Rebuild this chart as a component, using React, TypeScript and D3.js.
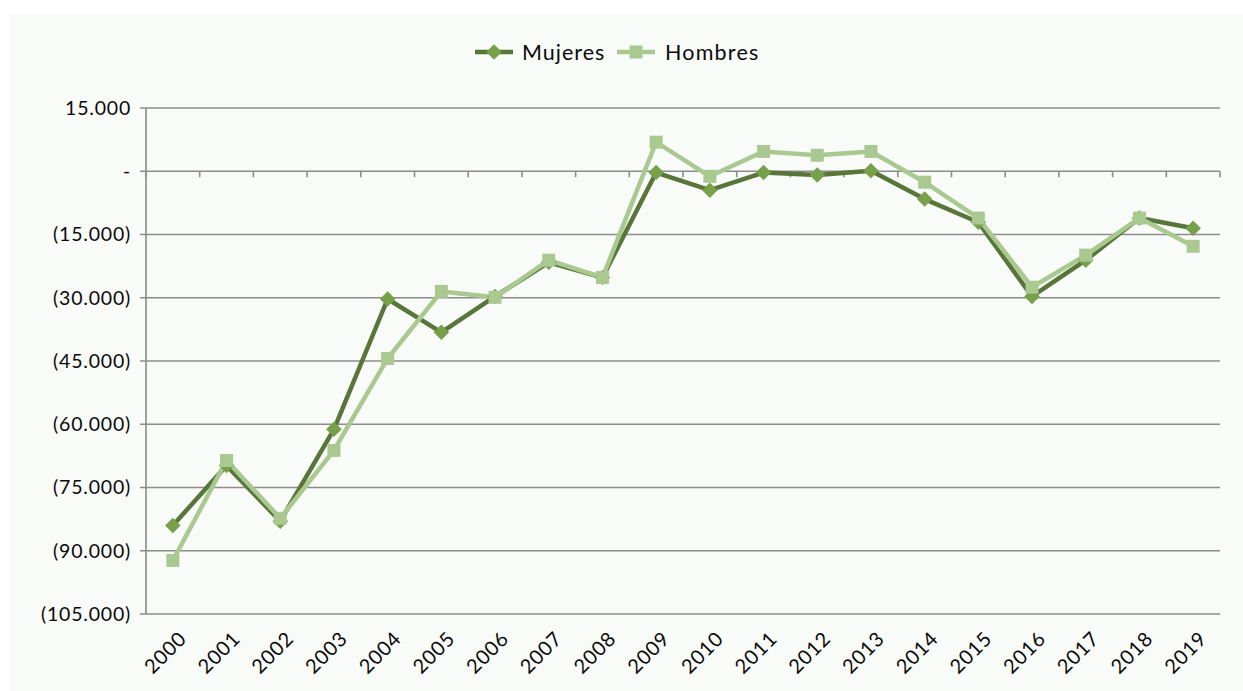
import React from "react";
import * as d3 from "d3";

const years = ["2000","2001","2002","2003","2004","2005","2006","2007","2008","2009","2010","2011","2012","2013","2014","2015","2016","2017","2018","2019"];
const mujeres = [-84000,-69800,-83000,-61200,-30300,-38200,-29700,-21600,-25200,-300,-4500,-300,-900,100,-6600,-12100,-29700,-21100,-11100,-13500];
const hombres = [-92300,-68600,-82300,-66200,-44400,-28500,-29900,-21100,-25200,6900,-1200,4700,3800,4700,-2600,-11100,-27500,-19900,-11100,-17800];
const yTicks = [15000,0,-15000,-30000,-45000,-60000,-75000,-90000,-105000];

const W = 1243, H = 691;
const left = 146, right = 1220, top = 108, bottom = 614;
const FONT = "Lato, 'Open Sans', sans-serif";

function fmt(v: number) {
  if (v === 0) return "-";
  const s = d3.format(",")(Math.abs(v)).replace(/,/g, ".");
  return v < 0 ? `(${s})` : s;
}

export default function App() {
  const x = d3.scaleBand<string>().domain(years).range([left, right]);
  const y = d3.scaleLinear().domain([-105000, 15000]).range([bottom, top]);
  const cx = (d: string) => (x(d) as number) + x.bandwidth() / 2;
  const line = d3.line<number>().x((_, i) => cx(years[i])).y((v) => y(v));
  const darkLine = "#58763a";
  const darkMark = "#76a04a";
  const light = "#a9c990";
  const gridColor = "#8c8c8c";
  return (
    <svg width={W} height={H} style={{ position: "absolute", left: 0, top: 0 }}>
      <rect x={0} y={0} width={W} height={H} fill="#ffffff" />
      <rect x={10} y={14} width={W - 10} height={H - 14} fill="#f9fbf9" />
      {yTicks.map((t) => (
        <g key={t}>
          <line x1={left - 6} x2={right} y1={y(t)} y2={y(t)} stroke={gridColor} strokeWidth={1.6} />
          <text x={131} y={y(t)} dy="0.35em" textAnchor="end" fontFamily={FONT} fontSize={19.5} letterSpacing={0.8} fill="#0a0a0a">{fmt(t)}</text>
        </g>
      ))}
      <line x1={left} x2={left} y1={top} y2={bottom} stroke={gridColor} strokeWidth={1.6} />
      {years.map((yr) => (
        <line key={"t" + yr} x1={(x(yr) as number)} x2={(x(yr) as number)} y1={y(0)} y2={y(0) + 6} stroke={gridColor} strokeWidth={1.6} />
      ))}
      <line x1={right} x2={right} y1={y(0)} y2={y(0) + 6} stroke={gridColor} strokeWidth={1.6} />
      {years.map((yr) => (
        <text key={"l" + yr} transform={`translate(${cx(yr) + 5},${630}) rotate(-45)`} textAnchor="end" fontFamily={FONT} fontSize={20} letterSpacing={0.8} fill="#0a0a0a" dy="0.7em">{yr}</text>
      ))}
      <path d={line(mujeres) as string} fill="none" stroke={darkLine} strokeWidth={4.5} strokeLinejoin="round" />
      <path d={line(hombres) as string} fill="none" stroke={light} strokeWidth={4.5} strokeLinejoin="round" />
      {mujeres.map((v, i) => (
        <rect key={"m" + i} x={-5.5} y={-5.5} width={11} height={11} fill={darkMark} transform={`translate(${cx(years[i])},${y(v)}) rotate(45)`} />
      ))}
      {hombres.map((v, i) => (
        <rect key={"h" + i} x={cx(years[i]) - 6.5} y={y(v) - 6.5} width={13} height={13} fill={light} />
      ))}
      <g>
        <line x1={475} x2={513} y1={52} y2={52} stroke={darkLine} strokeWidth={4.5} />
        <rect x={-5.5} y={-5.5} width={11} height={11} fill={darkMark} transform="translate(494,52) rotate(45)" />
        <text x={522} y={52} dy="0.35em" fontFamily={FONT} fontSize={21.5} letterSpacing={1} fill="#0a0a0a">Mujeres</text>
        <line x1={617} x2={655} y1={52} y2={52} stroke={light} strokeWidth={4.5} />
        <rect x={629.5} y={45.5} width={13} height={13} fill={light} />
        <text x={665} y={52} dy="0.35em" fontFamily={FONT} fontSize={21.5} letterSpacing={1.2} fill="#0a0a0a">Hombres</text>
      </g>
    </svg>
  );
}
